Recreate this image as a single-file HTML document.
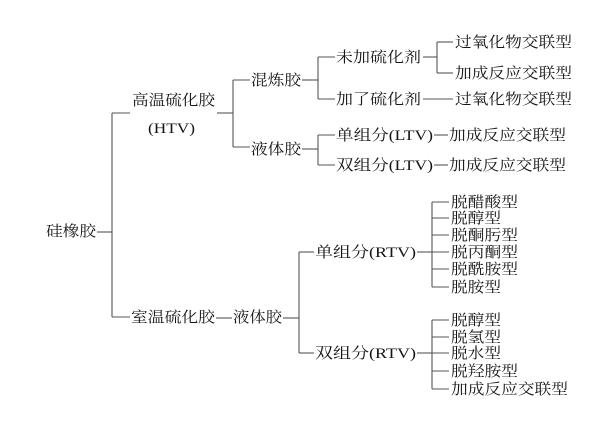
<!DOCTYPE html>
<html><head><meta charset="utf-8"><style>
html,body{margin:0;padding:0;background:#fff;}
svg{display:block}
text{font-family:"Liberation Serif","Noto Serif CJK SC","Noto Sans CJK SC",serif;font-size:15px;fill:#151515;}
line{stroke:#555;stroke-width:1.1}
</style></head><body>
<svg width="612" height="430" viewBox="0 0 612 430" xmlns="http://www.w3.org/2000/svg">
<!-- root -->
<text x="46" y="236" textLength="50" lengthAdjust="spacingAndGlyphs">硅橡胶</text>
<line x1="97" y1="232" x2="112" y2="232"/>
<line x1="112" y1="113" x2="112" y2="317"/>
<line x1="112" y1="113" x2="130" y2="113"/>
<line x1="112" y1="317" x2="130" y2="317"/>

<!-- HTV -->
<text x="132" y="105" textLength="83" lengthAdjust="spacingAndGlyphs">高温硫化胶</text>
<text x="148" y="133" textLength="47" lengthAdjust="spacingAndGlyphs">(HTV)</text>
<line x1="217" y1="113" x2="233" y2="113"/>
<line x1="233" y1="80" x2="233" y2="147"/>
<line x1="233" y1="80" x2="250" y2="80"/>
<line x1="233" y1="147" x2="250" y2="147"/>

<text x="251" y="85" textLength="50" lengthAdjust="spacingAndGlyphs">混炼胶</text>
<line x1="302" y1="80" x2="318" y2="80"/>
<line x1="318" y1="57" x2="318" y2="99"/>
<line x1="318" y1="57" x2="335" y2="57"/>
<line x1="318" y1="99" x2="335" y2="99"/>

<text x="336" y="62" textLength="85" lengthAdjust="spacingAndGlyphs">未加硫化剂</text>
<line x1="423" y1="57" x2="437" y2="57"/>
<line x1="437" y1="42" x2="437" y2="73"/>
<line x1="437" y1="42" x2="453" y2="42"/>
<line x1="437" y1="73" x2="453" y2="73"/>
<text x="455" y="47" textLength="117" lengthAdjust="spacingAndGlyphs">过氧化物交联型</text>
<text x="455" y="78" textLength="117" lengthAdjust="spacingAndGlyphs">加成反应交联型</text>

<text x="336" y="104" textLength="85" lengthAdjust="spacingAndGlyphs">加了硫化剂</text>
<line x1="423" y1="99" x2="453" y2="99"/>
<text x="455" y="104" textLength="117" lengthAdjust="spacingAndGlyphs">过氧化物交联型</text>

<text x="251" y="154" textLength="50" lengthAdjust="spacingAndGlyphs">液体胶</text>
<line x1="302" y1="149" x2="318" y2="149"/>
<line x1="318" y1="135" x2="318" y2="165"/>
<line x1="318" y1="135" x2="335" y2="135"/>
<line x1="318" y1="165" x2="335" y2="165"/>
<text x="336" y="140" textLength="97" lengthAdjust="spacingAndGlyphs">单组分(LTV)</text>
<line x1="434" y1="135" x2="448" y2="135"/>
<text x="449" y="140" textLength="117" lengthAdjust="spacingAndGlyphs">加成反应交联型</text>
<text x="336" y="170" textLength="97" lengthAdjust="spacingAndGlyphs">双组分(LTV)</text>
<line x1="434" y1="165" x2="448" y2="165"/>
<text x="449" y="170" textLength="117" lengthAdjust="spacingAndGlyphs">加成反应交联型</text>

<!-- RTV -->
<text x="131" y="322" textLength="84" lengthAdjust="spacingAndGlyphs">室温硫化胶</text>
<line x1="216" y1="318" x2="232" y2="318"/>
<text x="233" y="322" textLength="49" lengthAdjust="spacingAndGlyphs">液体胶</text>
<line x1="283" y1="318" x2="299" y2="318"/>
<line x1="299" y1="252" x2="299" y2="353"/>
<line x1="299" y1="252" x2="314" y2="252"/>
<line x1="299" y1="353" x2="314" y2="353"/>

<text x="315" y="257" textLength="101" lengthAdjust="spacingAndGlyphs">单组分(RTV)</text>
<line x1="417" y1="252" x2="432" y2="252"/>
<line x1="432" y1="202" x2="432" y2="287"/>
<line x1="432" y1="202" x2="449" y2="202"/>
<line x1="432" y1="218" x2="449" y2="218"/>
<line x1="432" y1="235" x2="449" y2="235"/>
<line x1="432" y1="252" x2="449" y2="252"/>
<line x1="432" y1="269" x2="449" y2="269"/>
<line x1="432" y1="287" x2="449" y2="287"/>
<text x="451" y="207" textLength="67" lengthAdjust="spacingAndGlyphs">脱醋酸型</text>
<text x="451" y="223" textLength="50" lengthAdjust="spacingAndGlyphs">脱醇型</text>
<text x="451" y="240" textLength="67" lengthAdjust="spacingAndGlyphs">脱酮肟型</text>
<text x="451" y="257" textLength="67" lengthAdjust="spacingAndGlyphs">脱丙酮型</text>
<text x="451" y="274" textLength="67" lengthAdjust="spacingAndGlyphs">脱酰胺型</text>
<text x="451" y="292" textLength="50" lengthAdjust="spacingAndGlyphs">脱胺型</text>

<text x="315" y="358" textLength="101" lengthAdjust="spacingAndGlyphs">双组分(RTV)</text>
<line x1="417" y1="353" x2="432" y2="353"/>
<line x1="432" y1="320" x2="432" y2="389"/>
<line x1="432" y1="320" x2="449" y2="320"/>
<line x1="432" y1="337" x2="449" y2="337"/>
<line x1="432" y1="353" x2="449" y2="353"/>
<line x1="432" y1="371" x2="449" y2="371"/>
<line x1="432" y1="389" x2="449" y2="389"/>
<text x="451" y="325" textLength="50" lengthAdjust="spacingAndGlyphs">脱醇型</text>
<text x="451" y="342" textLength="50" lengthAdjust="spacingAndGlyphs">脱氢型</text>
<text x="451" y="358" textLength="50" lengthAdjust="spacingAndGlyphs">脱水型</text>
<text x="451" y="376" textLength="67" lengthAdjust="spacingAndGlyphs">脱羟胺型</text>
<text x="451" y="394" textLength="117" lengthAdjust="spacingAndGlyphs">加成反应交联型</text>
</svg>
</body></html>
